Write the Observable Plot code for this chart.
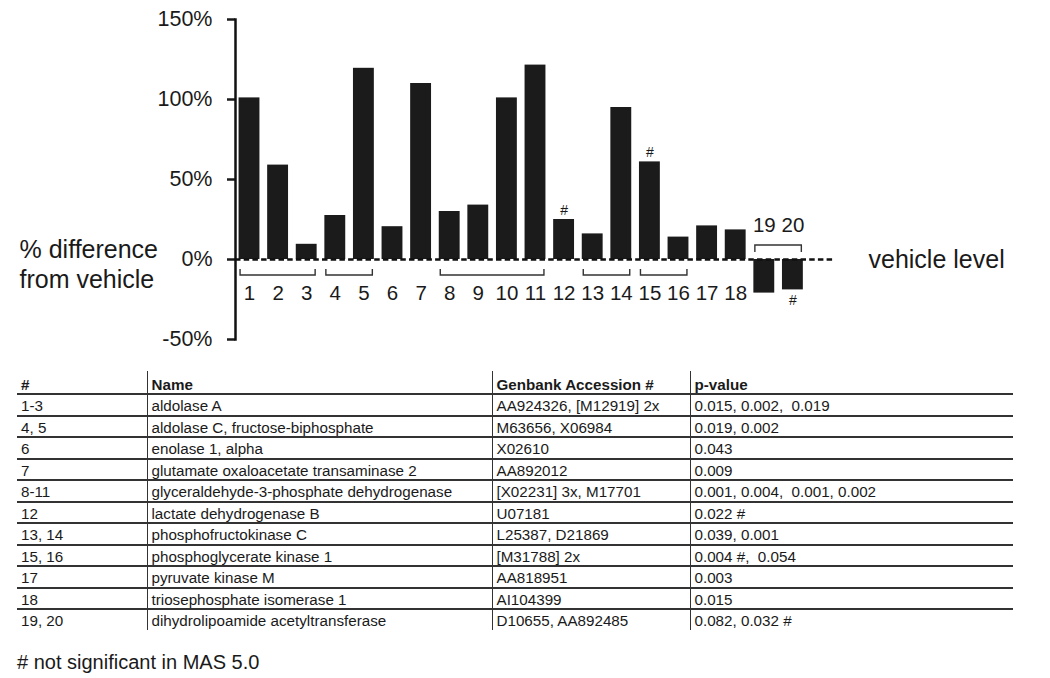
<!DOCTYPE html>
<html>
<head>
<meta charset="utf-8">
<script src="https://cdn.jsdelivr.net/npm/d3@7"></script>
<script src="https://cdn.jsdelivr.net/npm/@observablehq/plot@0.6"></script>
<style>
  body { margin: 0; background: #fff; font-family: "Liberation Sans", Arial, sans-serif; color: #1a1a1a; }
  #wrap { position: relative; width: 1050px; height: 678px; overflow: hidden; }
  #chart { position: absolute; left: 0; top: 0; }
  #tbl { position: absolute; left: 17px; top: 371px; width: 996px; border-collapse: collapse; table-layout: fixed; font-size: 15.2px; line-height: 1; }
  #tbl th, #tbl td { padding: 0 4px; text-align: left; white-space: nowrap; border-bottom: 2px solid #333; }
  #tbl th { height: 21px; font-weight: bold; vertical-align: bottom; padding-bottom: 1px; }
  #tbl td { height: 17.5px; vertical-align: middle; padding-top: 2px; }
  #tbl th + th, #tbl td + td { border-left: 1.5px solid #333; }
  #tbl tr:last-child td { border-bottom: none; }
  #note { position: absolute; left: 17px; top: 652px; font-size: 20px; line-height: 1; }
</style>
</head>
<body>
<div id="wrap">
  <div id="chart"></div>
  <table id="tbl"><colgroup><col style="width:130px"><col style="width:345px"><col style="width:198px"><col style="width:323px"></colgroup><thead></thead><tbody></tbody></table>
  <div id="note"></div>
</div>
<script>
// ---- chart data ----
const geneNumbers = [1,2,3,4,5,6,7,8,9,10,11,12,13,14,15,16,17,18,19,20];
const pctDifference = [101, 59, 9.5, 27.5, 119.5, 20.5, 110, 30, 34, 101, 121.5, 25, 16, 95, 61, 14, 21, 18.5, -21, -19];
const notSignificant = [12, 15, 20];
const bracketFrom = [1, 4, 8, 13, 15, 19];
const bracketTo = [3, 5, 11, 14, 16, 20];
const bracketSide = ["below", "below", "below", "below", "below", "above"];
const yTicks = [-50, 0, 50, 100, 150];
const yAxisLabel = "% difference\nfrom vehicle";
const zeroLabel = "vehicle level";

// ---- table data ----
const tableHeader = ["#", "Name", "Genbank Accession #", "p-value"];
const tableIds = ["1-3", "4, 5", "6", "7", "8-11", "12", "13, 14", "15, 16", "17", "18", "19, 20"];
const tableNames = ["aldolase A", "aldolase C, fructose-biphosphate", "enolase 1, alpha", "glutamate oxaloacetate transaminase 2", "glyceraldehyde-3-phosphate dehydrogenase", "lactate dehydrogenase B", "phosphofructokinase C", "phosphoglycerate kinase 1", "pyruvate kinase M", "triosephosphate isomerase 1", "dihydrolipoamide acetyltransferase"];
const tableAccessions = ["AA924326, [M12919] 2x", "M63656, X06984", "X02610", "AA892012", "[X02231] 3x, M17701", "U07181", "L25387, D21869", "[M31788] 2x", "AA818951", "AI104399", "D10655, AA892485"];
const tablePvalues = ["0.015, 0.002,  0.019", "0.019, 0.002", "0.043", "0.009", "0.001, 0.004,  0.001, 0.002", "0.022 #", "0.039, 0.001", "0.004 #,  0.054", "0.003", "0.015", "0.082, 0.032 #"];
const footnote = "# not significant in MAS 5.0";

const bars = geneNumbers.map((n, i) => ({n, v: pctDifference[i], ns: notSignificant.includes(n)}));
const brackets = bracketFrom.map((f, i) => ({from: f, to: bracketTo[i], side: bracketSide[i]}));

function bracketMark(index, scales) {
  const {x, y} = scales;
  const bw = x.bandwidth();
  const g = d3.create("svg:g").attr("fill", "none").attr("stroke", "#333").attr("stroke-width", 1.4);
  for (const b of brackets) {
    const x1 = x(b.from) + 1.5, x2 = x(b.to) + bw - 1.5;
    const yl = b.side === "below" ? y(-10) : y(8.75);
    const ye = b.side === "below" ? y(-6.25) : y(4.4);
    g.append("path").attr("d", `M${x1},${ye}V${yl}H${x2}V${ye}`);
  }
  return g.node();
}

const font = '"Liberation Sans", Arial, sans-serif';
const chart = Plot.plot({
  width: 1050, height: 360,
  marginTop: 19, marginBottom: 21, marginLeft: 235, marginRight: 215,
  style: {fontFamily: font, fontSize: "20px", color: "#1a1a1a", background: "white", overflow: "visible"},
  x: {type: "band", domain: geneNumbers, range: [234.7, 806.7], paddingInner: 0.27, paddingOuter: 0.135, round: false, axis: null},
  y: {domain: [-50, 150], axis: null},
  marks: [
    Plot.barY(bars, {x: "n", y: "v", fill: "#1b1b1b"}),
    Plot.ruleY([0], {stroke: "#111", strokeWidth: 2.5, strokeDasharray: "5.5,3.2"}),
    bracketMark,
    Plot.text(bars, {x: "n", y: d => d.v < 0 ? 21 : -21, text: d => String(d.n), fontSize: 20.5}),
    Plot.text(bars.filter(d => d.ns && d.v >= 0), {x: "n", y: "v", text: () => "#", fontSize: 14, dy: -9}),
    Plot.text(bars.filter(d => d.ns && d.v < 0), {x: "n", y: "v", text: () => "#", fontSize: 14, dy: 11}),
    Plot.axisY({ticks: yTicks, tickFormat: d => `${d}%`, tickSize: 8, tickPadding: 15, fontSize: 21.5, strokeWidth: 2.5, label: null}),
    Plot.frame({anchor: "left", stroke: "#111", strokeWidth: 2.5}),
    Plot.text([zeroLabel], {y: () => 0, text: d => d, frameAnchor: "right", textAnchor: "start", dx: 33, fontSize: 25}),
    Plot.text([yAxisLabel], {y: () => 0, text: d => d, frameAnchor: "left", textAnchor: "start", dx: -216, dy: 4, fontSize: 25, lineHeight: 1.2})
  ]
});
document.getElementById("chart").append(chart);

// table
const thead = document.querySelector("#tbl thead");
const hr = document.createElement("tr");
for (const h of tableHeader) { const th = document.createElement("th"); th.textContent = h; hr.append(th); }
thead.append(hr);
const tbody = document.querySelector("#tbl tbody");
tableIds.forEach((id, i) => {
  const tr = document.createElement("tr");
  for (const v of [id, tableNames[i], tableAccessions[i], tablePvalues[i]]) {
    const td = document.createElement("td"); td.textContent = v; td.style.whiteSpace = "pre"; tr.append(td);
  }
  tbody.append(tr);
});
document.getElementById("note").textContent = footnote;
</script>
</body>
</html>
